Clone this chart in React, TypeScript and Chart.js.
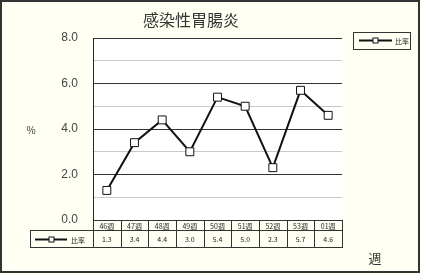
import React, { useEffect, useRef } from "react";
import { Chart, registerables } from "chart.js";

Chart.register(...registerables);

const TITLE = "感染性胃腸炎";
const SERIES_NAME = "比率";
const Y_UNIT = "%";
const X_UNIT = "週";
const categories = ["46週", "47週", "48週", "49週", "50週", "51週", "52週", "53週", "01週"];
const values = [1.3, 3.4, 4.4, 3.0, 5.4, 5.0, 2.3, 5.7, 4.6];
const yTicks = [0, 2, 4, 6, 8];

const W = 421;
const H = 275;
const CJK = '"Noto Sans CJK JP", "Noto Sans", sans-serif';
const LAT = '"Liberation Sans", Arial, sans-serif';

function drawMarker(ctx: CanvasRenderingContext2D, x: number, y: number, s: number) {
  ctx.fillStyle = "#fff";
  ctx.fillRect(x - s / 2, y - s / 2, s, s);
  ctx.strokeStyle = "#111";
  ctx.lineWidth = 1;
  ctx.strokeRect(x - s / 2, y - s / 2, s, s);
}

const decorPlugin = {
  id: "decor",
  beforeDraw(chart: any) {
    const { ctx, chartArea } = chart;
    ctx.save();
    ctx.fillStyle = "#FFFFF3";
    ctx.fillRect(0, 0, W, H);
    ctx.fillStyle = "#FFFFFF";
    ctx.fillRect(chartArea.left, chartArea.top, chartArea.right - chartArea.left, chartArea.bottom - chartArea.top);
    ctx.restore();
  },
  afterDraw(chart: any) {
    const { ctx, chartArea, scales } = chart;
    const xs = scales.x;
    ctx.save();
    // outer frame
    ctx.strokeStyle = "#333";
    ctx.lineWidth = 2;
    ctx.strokeRect(1, 1, W - 3, H - 4);

    // title
    ctx.fillStyle = "#333";
    ctx.font = `16px ${CJK}`;
    ctx.textAlign = "center";
    ctx.textBaseline = "middle";
    ctx.fillText(TITLE, 191, 20);

    // y unit
    ctx.font = `10px ${CJK}`;
    ctx.fillText(Y_UNIT, 31, 130);

    // x unit
    ctx.font = `13px ${CJK}`;
    ctx.fillText(X_UNIT, 375, 258);

    // legend box
    ctx.strokeStyle = "#333";
    ctx.lineWidth = 1;
    ctx.strokeRect(353.5, 32.5, 57, 17);
    ctx.strokeStyle = "#111";
    ctx.lineWidth = 2;
    ctx.beginPath();
    ctx.moveTo(359, 40.5);
    ctx.lineTo(392, 40.5);
    ctx.stroke();
    drawMarker(ctx, 375.5, 40.5, 5);
    ctx.fillStyle = "#222";
    ctx.font = `7px ${CJK}`;
    ctx.textAlign = "left";
    ctx.fillText(SERIES_NAME, 395, 41);

    // data table
    const n = categories.length;
    const step = xs.getPixelForValue(1) - xs.getPixelForValue(0);
    const left = chartArea.left;
    const right = chartArea.right;
    const y0 = chartArea.bottom;
    const y1 = y0 + 10;
    const y2 = y0 + 27;
    const tableLeft = 30;
    ctx.strokeStyle = "#333";
    ctx.lineWidth = 1;
    ctx.beginPath();
    ctx.moveTo(left, Math.round(y0) + 0.5);
    ctx.lineTo(right, Math.round(y0) + 0.5);
    ctx.moveTo(tableLeft, Math.round(y1) + 0.5);
    ctx.lineTo(right, Math.round(y1) + 0.5);
    ctx.moveTo(tableLeft, Math.round(y2) + 0.5);
    ctx.lineTo(right, Math.round(y2) + 0.5);
    ctx.moveTo(tableLeft + 0.5, Math.round(y1));
    ctx.lineTo(tableLeft + 0.5, Math.round(y2) + 1);
    for (let i = 0; i <= n; i++) {
      const bx = Math.round(xs.getPixelForValue(0) - step / 2 + i * step) + 0.5;
      ctx.moveTo(bx, Math.round(y0));
      ctx.lineTo(bx, Math.round(y2) + 1);
    }
    ctx.stroke();

    ctx.fillStyle = "#222";
    ctx.textAlign = "center";
    ctx.font = `7px ${CJK}`;
    for (let i = 0; i < n; i++) {
      const cx = xs.getPixelForValue(i);
      ctx.fillText(categories[i], cx, (y0 + y1) / 2 + 1);
      ctx.fillText(values[i].toFixed(1), cx, (y1 + y2) / 2 + 1);
    }
    // row header
    const ry = Math.round((y1 + y2) / 2) + 0.5;
    ctx.strokeStyle = "#111";
    ctx.lineWidth = 2;
    ctx.beginPath();
    ctx.moveTo(35, ry);
    ctx.lineTo(67, ry);
    ctx.stroke();
    drawMarker(ctx, 51.5, ry, 5);
    ctx.fillStyle = "#222";
    ctx.textAlign = "left";
    ctx.font = `7px ${CJK}`;
    ctx.fillText(SERIES_NAME, 71, ry + 0.5);
    ctx.restore();
  },
};

export default function App() {
  const ref = useRef<HTMLCanvasElement | null>(null);
  useEffect(() => {
    document.body.style.margin = "0";
    const canvas = ref.current!;
    const chart = new Chart(canvas, {
      type: "line",
      data: {
        labels: categories,
        datasets: [
          {
            label: SERIES_NAME,
            data: values,
            borderColor: "#111",
            borderWidth: 2,
            pointStyle: "rect",
            pointRadius: 5.6,
            pointBackgroundColor: "#fff",
            pointBorderColor: "#111",
            pointBorderWidth: 1,
            tension: 0,
          },
        ],
      },
      options: {
        responsive: false,
        animation: false,
        devicePixelRatio: 1,
        layout: { padding: { left: 0, right: W - 342, top: 38, bottom: H - 220 } },
        plugins: { legend: { display: false }, title: { display: false }, tooltip: { enabled: false } },
        scales: {
          x: { display: false, offset: true },
          y: {
            min: 0,
            max: 8,
            afterFit: (s: any) => {
              s.width = 93;
            },
            afterBuildTicks: (s: any) => {
              s.ticks = [0, 1, 2, 3, 4, 5, 6, 7, 8].map((v) => ({ value: v }));
            },
            ticks: {
              autoSkip: false,
              padding: 15,
              color: "#444",
              font: { family: LAT, size: 12 },
              callback: (v: any) => (yTicks.includes(Number(v)) ? Number(v).toFixed(1) : ""),
            },
            grid: {
              drawTicks: false,
              color: (c: any) => (c.tick && c.tick.value % 2 === 0 ? "#333" : "#c8c8c8"),
              lineWidth: 1,
            },
            border: { display: true, color: "#222", width: 1 },
          },
        },
      },
      plugins: [decorPlugin],
    });
    return () => chart.destroy();
  }, []);
  return (
    <div style={{ position: "absolute", left: 0, top: 0, width: W, height: H }}>
      <canvas ref={ref} width={W} height={H} style={{ width: W, height: H, display: "block" }} />
    </div>
  );
}
